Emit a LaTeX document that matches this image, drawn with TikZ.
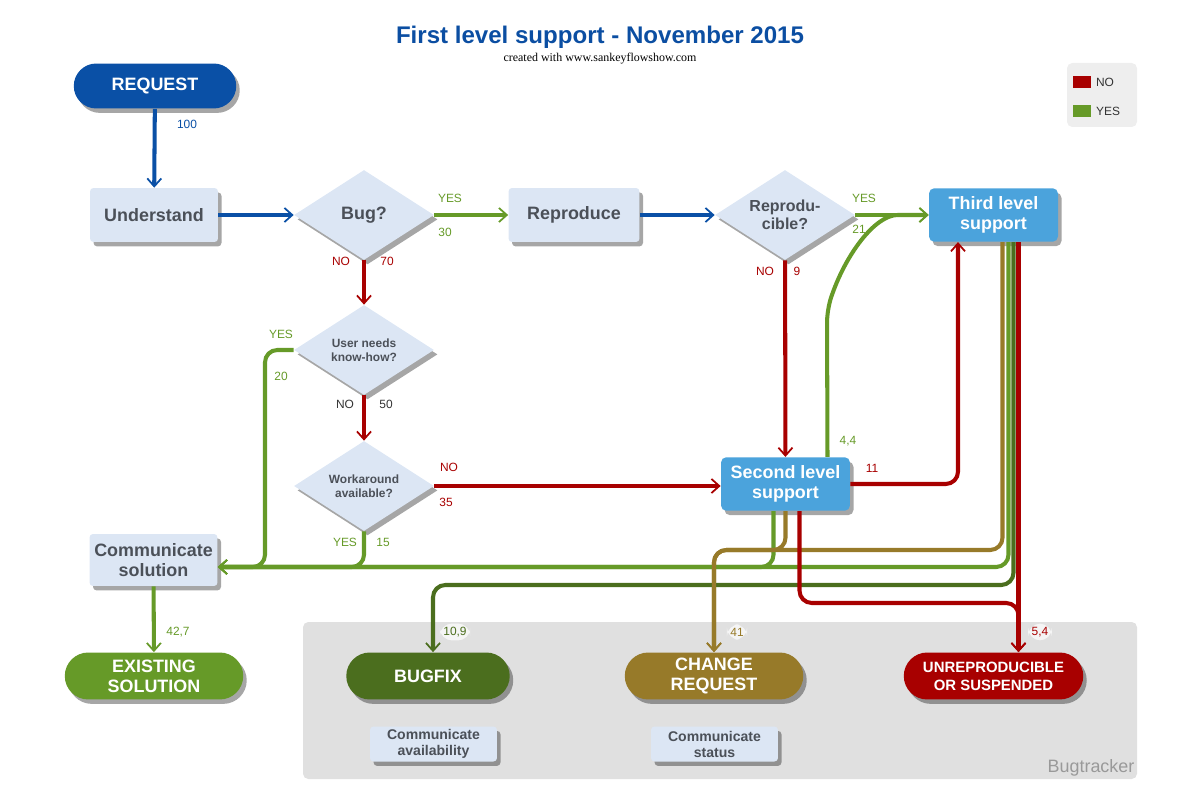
\documentclass[tikz,border=0pt]{standalone}
\usepackage{fontspec}
\setmainfont{Liberation Sans}
\newfontfamily\creditfont{Liberation Serif}
\usetikzlibrary{arrows.meta,shapes.geometric,shapes.misc,shadows}

\definecolor{titleblue}{HTML}{0B4EA2}
\definecolor{flowblue}{HTML}{0A50A6}
\definecolor{nored}{HTML}{A80000}
\definecolor{yesgreen}{HTML}{669A28}
\definecolor{fixgreen}{HTML}{4B6E1E}
\definecolor{crolive}{HTML}{977A29}
\definecolor{boxfill}{HTML}{DCE6F4}
\definecolor{boxtext}{HTML}{4B5058}
\definecolor{supportblue}{HTML}{4BA3DC}
\definecolor{areagray}{HTML}{E0E0E0}
\definecolor{legendgray}{HTML}{EEEEEE}
\definecolor{darktext}{HTML}{333333}

\tikzset{
  shadowed/.style={drop shadow={shadow xshift=2pt,shadow yshift=-2.5pt,opacity=.35,fill=black}},
  stepbox/.style={rectangle,rounded corners=2pt,fill=boxfill,text=boxtext,align=center,
    font=\bfseries\fontsize{10.2}{11.4}\selectfont,minimum width=2.56cm,minimum height=1.08cm,
    inner sep=1pt,shadowed},
  decision/.style={diamond,aspect=1.5,fill=boxfill,text=boxtext,align=center,
    font=\bfseries\fontsize{10.2}{11.4}\selectfont,minimum width=2.8cm,minimum height=1.8cm,
    inner sep=0pt,shadowed},
  smallq/.style={font=\bfseries\fontsize{6.8}{8.2}\selectfont},
  support/.style={rectangle,rounded corners=3pt,fill=supportblue,text=white,align=center,
    font=\bfseries\fontsize{10.2}{11.4}\selectfont,minimum width=2.58cm,minimum height=1.07cm,
    inner sep=1pt,shadowed},
  terminal/.style={rounded rectangle,text=white,align=center,
    font=\bfseries\fontsize{10.2}{11.4}\selectfont,minimum width=3.64cm,minimum height=.94cm,
    inner sep=1pt,shadowed},
  notebox/.style={rectangle,rounded corners=2pt,fill=boxfill,text=boxtext,align=center,
    font=\bfseries\fontsize{8}{9.1}\selectfont,minimum width=2.54cm,minimum height=.7cm,
    inner sep=1pt,shadowed},
  lbl/.style={font=\fontsize{6.8}{8}\selectfont,inner sep=1pt,text=darktext},
  tag/.style={lbl,fill=black!4,inner sep=2pt},
  legendkey/.style={rectangle,minimum width=.36cm,minimum height=.24cm,inner sep=0pt},
  flow/.style={line width=2.3pt,rounded corners=7pt},
  blueflow/.style={flow,draw=flowblue},
  noflow/.style={flow,draw=nored},
  yesflow/.style={flow,draw=yesgreen},
  fixflow/.style={flow,draw=fixgreen},
  croflow/.style={flow,draw=crolive}
}

\begin{document}
\begin{tikzpicture}[x=0.02cm,y=-0.02cm,>={Straight Barb[length=4.5pt,width=8pt,line width=1pt]}]
\useasboundingbox (0,0) rectangle (1200,800);
\node[font=\bfseries\fontsize{13.7}{16}\selectfont,text=titleblue] (title) at (600,37) {First level support - November 2015};
\node[font=\creditfont\fontsize{6.8}{8}\selectfont] (credit) at (600,59) {created with www.sankeyflowshow.com};

% legend
\fill[legendgray,rounded corners=3pt] (1067,63) rectangle (1137,127);
\node[legendkey,fill=nored] (keyno) at (1082,82) {};
\node[lbl,anchor=west] (keynotext) at (1094,82) {NO};
\node[legendkey,fill=yesgreen] (keyyes) at (1082,111) {};
\node[lbl,anchor=west] (keyyestext) at (1094,111) {YES};

% bugtracker area
\fill[areagray,rounded corners=3pt] (303,622) rectangle (1137,779);
\node[font=\fontsize{10.2}{12}\selectfont,text=black!40] (bugtracker) at (1091,768) {Bugtracker};

% nodes
\node[terminal,fill=flowblue,minimum width=3.32cm,minimum height=.9cm] (request) at (155,86) {REQUEST};
\node[stepbox] (understand) at (154,215) {Understand};
\node[decision] (bug) at (364,215) {Bug?};
\node[stepbox,minimum width=2.62cm] (reproduce) at (574,215) {Reproduce};
\node[decision,font=\bfseries\fontsize{9.1}{10.5}\selectfont] (repro) at (785,215) {Reprodu-\\cible?};
\node[support] (third) at (993.5,215) {Third level\\support};
\node[decision,smallq] (userneeds) at (364,350) {User needs\\know-how?};
\node[decision,smallq] (workaround) at (364,486) {Workaround\\available?};
\node[support] (second) at (785.5,484) {Second level\\support};
\node[stepbox,minimum height=1.04cm] (commsol) at (153.5,560) {Communicate\\solution};
\node[terminal,fill=yesgreen] (existing) at (154,676) {EXISTING\\SOLUTION};
\node[terminal,fill=fixgreen,minimum width=3.34cm] (bugfix) at (428,676) {BUGFIX};
\node[terminal,fill=crolive] (change) at (714,676) {CHANGE\\REQUEST};
\node[terminal,fill=nored,minimum width=3.66cm,font=\bfseries\fontsize{8.5}{10.2}\selectfont] (unrep) at (993.5,676) {UNREPRODUCIBLE\\OR SUSPENDED};
\node[notebox] (commavail) at (433.5,744) {Communicate\\availability};
\node[notebox] (commstatus) at (714.5,744) {Communicate\\status};

\coordinate (lvlA) at (0,550);
\coordinate (lvlC) at (0,585);

% flows out of third level support
\draw[croflow,->] ([xshift=.18cm]third.south) |- (change.north |- lvlA) -- (change.north);
\draw[yesflow,->] ([xshift=.3cm]third.south) |- ([yshift=-.14cm]commsol.east);
\draw[fixflow,->] ([xshift=.4cm]third.south) |- ([xshift=.1cm]bugfix.north |- lvlC) -- ([xshift=.1cm]bugfix.north)
  node[tag,text=fixgreen] at (455,632) {10,9};
\draw[noflow,->] ([xshift=.5cm]third.south) -- ([xshift=.5cm]unrep.north)
  node[tag,text=nored] at (1040,632) {5,4};

% flows out of second level support
\draw[yesflow,->] ([xshift=-.24cm]second.south) |- ([yshift=-.14cm]commsol.east);
\draw[croflow,->] (second.south) |- (change.north |- lvlA) -- (change.north)
  node[tag,text=crolive] at (737,632) {41};
\draw[noflow,->] ([xshift=.28cm]second.south) |- (1018.5,603) -- ([xshift=.5cm]unrep.north);
\draw[noflow,->] (second.east) -| ([xshift=-.71cm]third.south)
  node[lbl,text=nored] at (872,468) {11};
\draw[yesflow,->] ([xshift=.84cm]second.north) -- (827,310) .. controls (845,255) and (875,215) .. (910,215) -- (third.west)
  node[lbl,text=yesgreen] at (848,441) {4,4};

% main line
\draw[blueflow,->] (request) -- (understand) node[lbl,text=flowblue] at (187,124) {100};
\draw[blueflow,->] (understand) -- (bug);
\draw[yesflow,->] (bug) -- (reproduce)
  node[lbl,text=yesgreen] at (450,198) {YES}
  node[lbl,text=yesgreen] at (445,232) {30};
\draw[blueflow,->] (reproduce) -- (repro);
\draw[yesflow,->] (repro) -- (third.west)
  node[lbl,text=yesgreen] at (864,198) {YES}
  node[lbl,text=yesgreen] at (859,229) {21};
\draw[noflow,->] (repro) -- (second)
  node[lbl,text=nored] at (765,271) {NO}
  node[lbl,text=nored] at (797,271) {9};
\draw[noflow,->] (bug) -- (userneeds)
  node[lbl,text=nored] at (341,261) {NO}
  node[lbl,text=nored] at (387,261) {70};
\draw[yesflow,->] (userneeds.west) -| (265,567) -- ([yshift=-.14cm]commsol.east)
  node[lbl,text=yesgreen] at (281,334) {YES}
  node[lbl,text=yesgreen] at (281,376) {20};
\draw[noflow,->] (userneeds) -- (workaround)
  node[lbl] at (345,404) {NO}
  node[lbl] at (386,404) {50};
\draw[noflow,->] (workaround) -- (second.west |- workaround)
  node[lbl,text=nored] at (449,467) {NO}
  node[lbl,text=nored] at (446,502) {35};
\draw[yesflow,->] (workaround.south) |- ([yshift=-.14cm]commsol.east)
  node[lbl,text=yesgreen] at (345,542) {YES}
  node[lbl,text=yesgreen] at (383,542) {15};
\draw[yesflow,->] (commsol) -- (existing)
  node[lbl,text=yesgreen] at (178,632) {42,7};
\end{tikzpicture}
\end{document}
